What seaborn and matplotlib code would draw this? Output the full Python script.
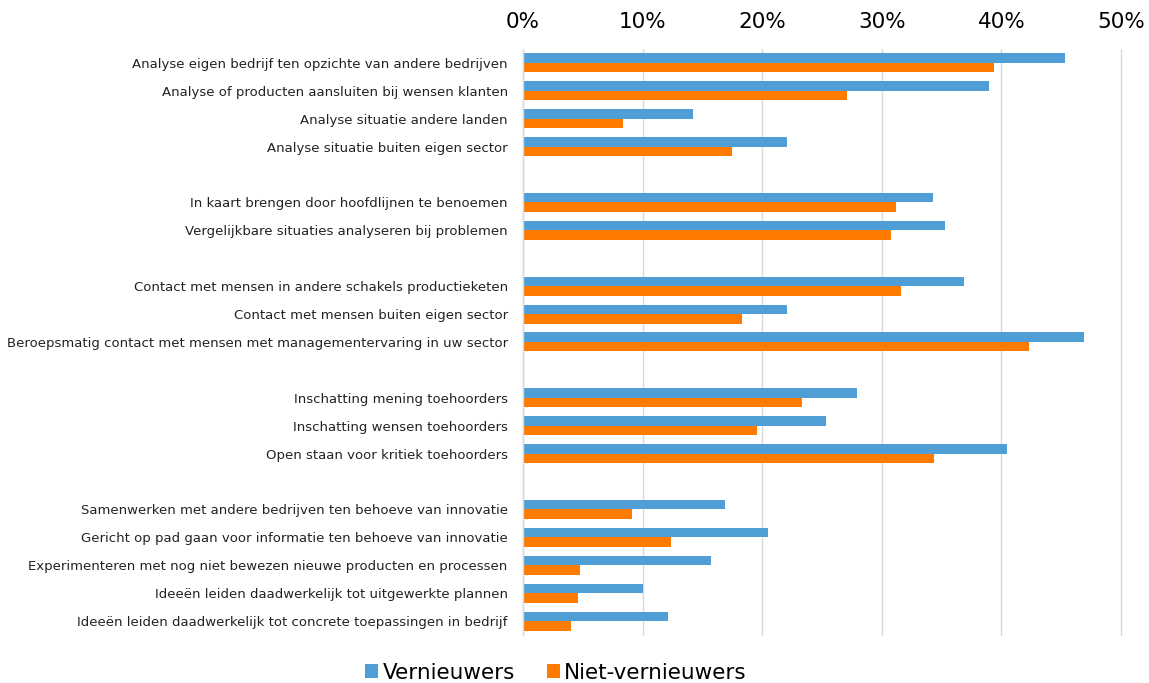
import matplotlib
matplotlib.use("Agg")
import matplotlib.pyplot as plt
import seaborn as sns
import pandas as pd
from matplotlib.patches import Patch
from matplotlib.ticker import FuncFormatter

groups = [
    ["Analyse eigen bedrijf ten opzichte van andere bedrijven",
     "Analyse of producten aansluiten bij wensen klanten",
     "Analyse situatie andere landen",
     "Analyse situatie buiten eigen sector"],
    ["In kaart brengen door hoofdlijnen te benoemen",
     "Vergelijkbare situaties analyseren bij problemen"],
    ["Contact met mensen in andere schakels productieketen",
     "Contact met mensen buiten eigen sector",
     "Beroepsmatig contact met mensen met managementervaring in uw sector"],
    ["Inschatting mening toehoorders",
     "Inschatting wensen toehoorders",
     "Open staan voor kritiek toehoorders"],
    ["Samenwerken met andere bedrijven ten behoeve van innovatie",
     "Gericht op pad gaan voor informatie ten behoeve van innovatie",
     "Experimenteren met nog niet bewezen nieuwe producten en processen",
     "Ideeën leiden daadwerkelijk tot uitgewerkte plannen",
     "Ideeën leiden daadwerkelijk tot concrete toepassingen in bedrijf"],
]
vernieuwers = [45.3, 39.0, 14.2, 22.1,
               34.3, 35.3,
               36.9, 22.1, 46.9,
               27.9, 25.3, 40.5,
               16.9, 20.5, 15.7, 10.0, 12.1]
niet_vernieuwers = [39.4, 27.1, 8.4, 17.5,
                    31.2, 30.8,
                    31.6, 18.3, 42.3,
                    23.3, 19.6, 34.4,
                    9.1, 12.4, 4.8, 4.6, 4.0]
series_names = ["Vernieuwers", "Niet-vernieuwers"]
colors = ["#4F9FD6", "#FF7B00"]
xticks = [0, 10, 20, 30, 40, 50]

categories = [c for g in groups for c in g]
order = []
for i, g in enumerate(groups):
    if i > 0:
        order.append(" " * i)
    order.extend(g)

df = pd.DataFrame({
    "categorie": categories * 2,
    "reeks": [series_names[0]] * len(categories) + [series_names[1]] * len(categories),
    "waarde": vernieuwers + niet_vernieuwers,
})

sns.set_style("white")
plt.rcParams["font.family"] = ["DejaVu Sans"]

fig = plt.figure(figsize=(11.49, 6.83), dpi=100)
ax = fig.add_axes([0.4552, 0.0703, 0.5204, 0.858])

sns.barplot(data=df, y="categorie", x="waarde", hue="reeks", order=order,
            hue_order=series_names, palette=colors, orient="h",
            width=0.68, ax=ax, legend=False, saturation=1,
            edgecolor="none", linewidth=0)

ax.set_xlim(0, 50)
ax.set_ylim(len(order) - 0.5, -0.5)
ax.set_xticks(xticks)
ax.xaxis.set_major_formatter(FuncFormatter(lambda v, p: f"{v:.0f}%"))
ax.xaxis.tick_top()
ax.tick_params(axis="x", length=0, labelsize=15.5, pad=12, colors="#000000")
ax.tick_params(axis="y", length=0, labelsize=9.55, pad=11)
for lab in ax.get_yticklabels():
    lab.set_color("#222222")
    lab.set_va("center_baseline")
ax.set_xlabel("")
ax.set_ylabel("")
ax.grid(axis="x", color="#D9D9D9", linewidth=1)
for gl in ax.get_xgridlines():
    gl.set_clip_on(False)
ax.set_axisbelow(True)
for s in ["top", "right", "bottom"]:
    ax.spines[s].set_visible(False)
ax.spines["left"].set_color("#D9D9D9")
ax.spines["left"].set_linewidth(1)

handles = [Patch(facecolor=c, edgecolor="none", label=n) for c, n in zip(colors, series_names)]
fig.legend(handles=handles, loc="center", bbox_to_anchor=(0.484, 0.015), ncol=2,
           frameon=False, fontsize=15.5, handlelength=0.6, handleheight=0.6,
           handletextpad=0.2, columnspacing=1.5, labelcolor="#000000")

fig.savefig("out.png", dpi=100)
